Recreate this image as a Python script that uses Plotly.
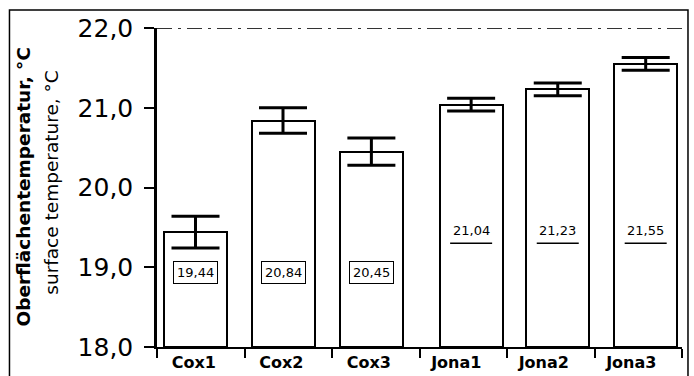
import plotly.graph_objects as go

categories = ["Cox1", "Cox2", "Cox3", "Jona1", "Jona2", "Jona3"]
means = [19.44, 20.84, 20.45, 21.04, 21.23, 21.55]
errors = [0.2, 0.16, 0.17, 0.08, 0.08, 0.08]
y_ticks = [18.0, 19.0, 20.0, 21.0, 22.0]

# style only
bar_width = 0.72
bar_offsets = [-0.42, -0.42, -0.41, -0.27, -0.28, -0.275]
FONT = "DejaVu Sans, sans-serif"

fig = go.Figure()
fig.add_trace(go.Bar(
    x=categories, y=[m - 18 for m in means], base=18,
    width=bar_width, offset=bar_offsets,
    marker=dict(color="white", line=dict(color="black", width=2)),
    error_y=dict(type="data", array=errors, color="black", thickness=3, width=24),
    showlegend=False, hoverinfo="skip",
))

def fmt(v):
    return f"{v:.2f}".replace(".", ",")

for i, (c, m) in enumerate(zip(categories, means)):
    xc = i + bar_offsets[i] + bar_width / 2
    if c.startswith("Cox"):
        fig.add_annotation(x=xc, y=18.93, xref="x", yref="y", text=fmt(m), showarrow=False,
                           font=dict(family=FONT, size=13, color="black"),
                           bordercolor="black", borderwidth=1, borderpad=3)
    else:
        fig.add_annotation(x=xc, y=19.46, xref="x", yref="y", text=fmt(m), showarrow=False,
                           font=dict(family=FONT, size=13, color="black"))
        fig.add_shape(type="line", xref="x", yref="y", x0=xc - 0.24, x1=xc + 0.24, y0=19.3, y1=19.3,
                      line=dict(color="black", width=1.5))

# dash-dot line at top value
fig.add_shape(type="line", xref="paper", yref="y", x0=0, x1=1, y0=22, y1=22,
              line=dict(color="#333333", width=2, dash="longdashdot"))

# outer frame
fig.add_shape(type="rect", xref="paper", yref="paper", x0=-0.281, x1=1.0114, y0=-0.12, y1=1.0564,
              line=dict(color="black", width=1.5), fillcolor="rgba(0,0,0,0)")

# y title (two lines)
fig.add_annotation(xref="paper", yref="paper", x=-0.2552, y=0.5, xanchor="center", yanchor="middle",
                   text="<b>Oberflächentemperatur, °C</b>",
                   textangle=-90, showarrow=False, font=dict(family=FONT, size=18.5, color="black"))
fig.add_annotation(xref="paper", yref="paper", x=-0.2, y=0.515, xanchor="center", yanchor="middle",
                   text="surface temperature, °C",
                   textangle=-90, showarrow=False, font=dict(family=FONT, size=18.5, color="black"))

fig.update_layout(
    width=694, height=376,
    margin=dict(l=157, r=12, t=28, b=29, autoexpand=False),
    paper_bgcolor="white", plot_bgcolor="white",
    separators=",.",
    font=dict(family=FONT, color="black"),
    bargap=0,
)
fig.update_xaxes(
    type="category", showgrid=False, zeroline=False, automargin=False,
    showline=True, linecolor="black", linewidth=2,
    ticks="outside", tickson="boundaries", ticklen=9, tickwidth=2, tickcolor="black",
    tickfont=dict(family=FONT, size=16, color="black", weight="bold"),
    ticklabelshift=-7, range=[-0.5, 5.5],
)
fig.update_yaxes(
    range=[18, 22], tickvals=y_ticks, tickformat=".1f", automargin=False,
    showgrid=False, zeroline=False,
    showline=True, linecolor="black", linewidth=2.5,
    ticks="outside", ticklen=10, tickwidth=2, tickcolor="black",
    tickfont=dict(family=FONT, size=25, color="black"),
    ticklabelstandoff=6,
)

fig.write_html("out.html", config={"displayModeBar": False},
               post_script="document.body.style.margin='0';document.body.style.overflow='hidden';")
